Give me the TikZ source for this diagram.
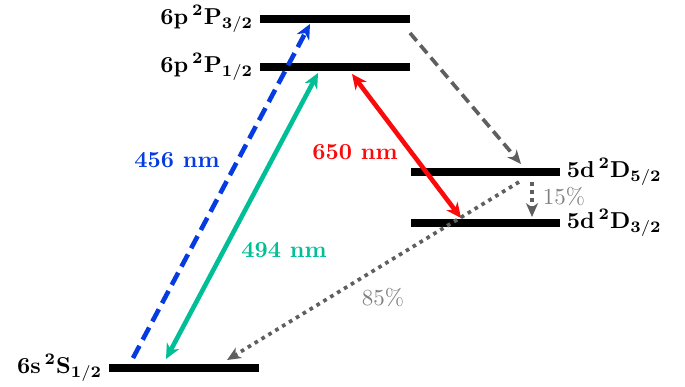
\documentclass[tikz,border=0pt]{standalone}
\usetikzlibrary{arrows.meta}
\definecolor{lblue}{RGB}{5,60,225}
\definecolor{lteal}{RGB}{0,190,150}
\definecolor{lred}{RGB}{250,10,10}
\definecolor{lgray}{RGB}{95,95,95}
\definecolor{tgray}{RGB}{128,128,128}
\tikzset{
  level/.style={line width=3.2pt, black},
  lab/.style={font=\bfseries, inner sep=1pt},
  tip/.style={-{Stealth[length=6.5pt,width=6pt,inset=2pt]}},
  both/.style={{Stealth[length=6.5pt,width=6pt,inset=2pt]}-{Stealth[length=6.5pt,width=6pt,inset=2pt]}},
  grtip/.style={-{Stealth[length=6pt,width=5.2pt,inset=1.8pt]}},
}
\begin{document}
\begin{tikzpicture}[x=0.4348pt,y=-0.4348pt]
\useasboundingbox (0,0) rectangle (685,386);
% levels
\coordinate (pthreeL) at (260,19); \coordinate (pthreeR) at (410,19);
\coordinate (poneL) at (260,67); \coordinate (poneR) at (410,67);
\coordinate (dfiveL) at (411,172); \coordinate (dfiveR) at (560,172);
\coordinate (dthreeL) at (411,223); \coordinate (dthreeR) at (560,223);
\coordinate (sL) at (109,368); \coordinate (sR) at (259,368);
\draw[level] (pthreeL) -- (pthreeR);
\draw[level] (poneL) -- (poneR);
\draw[level] (dfiveL) -- (dfiveR);
\draw[level] (dthreeL) -- (dthreeR);
\draw[level] (sL) -- (sR);
\node[lab, anchor=east] (lpthree) at (256,19) {6p\,$^{\mathbf{2}}$P$_{\mathbf{3/2}}$};
\node[lab, anchor=east] (lpone) at (256,67) {6p\,$^{\mathbf{2}}$P$_{\mathbf{1/2}}$};
\node[lab, anchor=west] (ldfive) at (564,172) {5d\,$^{\mathbf{2}}$D$_{\mathbf{5/2}}$};
\node[lab, anchor=west] (ldthree) at (564,223) {5d\,$^{\mathbf{2}}$D$_{\mathbf{3/2}}$};
\node[lab, anchor=east] (ls) at (105,368) {6s\,$^{\mathbf{2}}$S$_{\mathbf{1/2}}$};
% transition end points
\coordinate (b1) at (133,358); \coordinate (b2) at (310,24);
\coordinate (t1) at (166,359); \coordinate (t2) at (318,73);
\coordinate (r1) at (352,74); \coordinate (r2) at (461,218);
\coordinate (g1) at (410,33); \coordinate (g2) at (521,164);
\coordinate (d1) at (519,182); \coordinate (d2) at (227,360);
\coordinate (v1) at (532,182); \coordinate (v2) at (532,217);
\draw[lblue, line width=2pt, dash pattern=on 6pt off 3pt, tip] (b1) -- (b2);
\draw[lteal, line width=2pt, both] (t1) -- (t2);
\draw[lred, line width=2pt, both] (r1) -- (r2);
\draw[lgray, line width=1.6pt, dash pattern=on 4.5pt off 2.5pt, grtip] (g1) -- (g2);
\draw[lgray, line width=1.6pt, dash pattern=on 1.6pt off 1.9pt, grtip] (d1) -- (d2);
\draw[lgray, line width=1.6pt, dash pattern=on 1.6pt off 1.9pt, grtip] (v1) -- (v2);
% labels
\node[lab, text=lblue] (n456) at (177,160) {456 nm};
\node[lab, text=lteal] (n494) at (284,250) {494 nm};
\node[lab, text=lred] (n650) at (355,152) {650 nm};
\node[text=tgray, inner sep=1pt] (p15) at (564,197) {15\%};
\node[text=tgray, inner sep=1pt] (p85) at (383,297) {85\%};
\end{tikzpicture}
\end{document}
